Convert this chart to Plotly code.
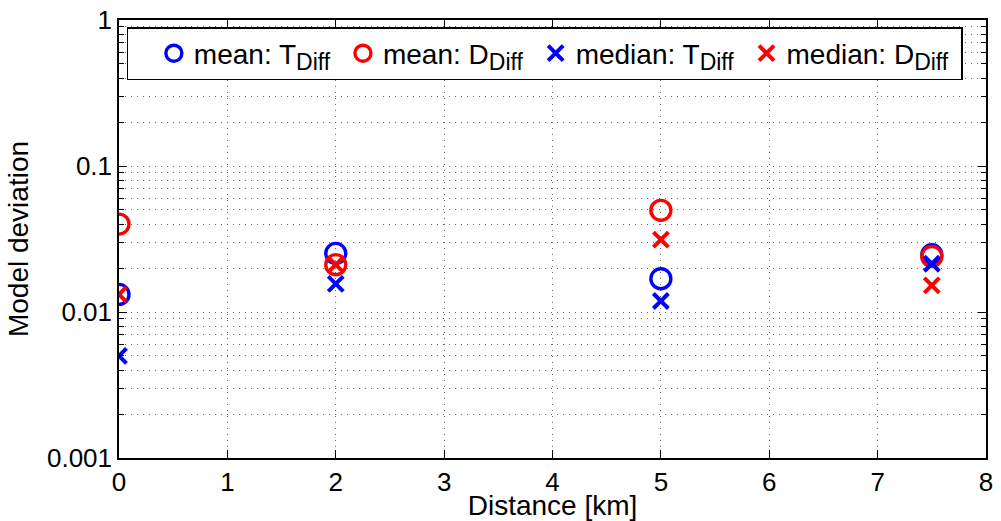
import plotly.graph_objects as go

distance = [0, 2, 5, 7.5]
mean_T = [0.0132, 0.0252, 0.0169, 0.0247]
mean_D = [0.040, 0.0211, 0.0497, 0.0240]
median_T = [0.0050, 0.0156, 0.0119, 0.0214]
median_D = [0.0132, 0.0211, 0.0313, 0.0152]

y_tickvals = [0.001, 0.01, 0.1, 1]
y_ticktext = ["0.001", "0.01", "0.1", "1"]

BLUE = "#0000ff"
RED = "#ff0000"
FONT = "Liberation Sans, Arial, sans-serif"
GRIDC = "#6a6a6a"
GDASH = "1px,5px"


def label(stat, var):
    return f"{stat}: {var}<sub><span style='font-size:23px'>Diff</span></sub>&nbsp;"


fig = go.Figure()
fig.add_trace(go.Scatter(x=distance, y=mean_T, mode="markers", name=label("mean", "T"),
                         marker=dict(symbol="circle-open", size=20, color=BLUE, line=dict(width=3.4, color=BLUE))))
fig.add_trace(go.Scatter(x=distance, y=mean_D, mode="markers", name=label("mean", "D"),
                         marker=dict(symbol="circle-open", size=20, color=RED, line=dict(width=3.4, color=RED))))
fig.add_trace(go.Scatter(x=distance, y=median_T, mode="markers", name=label("median", "T"),
                         marker=dict(symbol="x-thin-open", size=15, color=BLUE, line=dict(width=4, color=BLUE))))
fig.add_trace(go.Scatter(x=distance, y=median_D, mode="markers", name=label("median", "D"),
                         marker=dict(symbol="x-thin-open", size=15, color=RED, line=dict(width=4, color=RED))))

grid = dict(showgrid=True, gridcolor=GRIDC, griddash=GDASH, gridwidth=1)

fig.update_xaxes(range=[0, 8], dtick=1, tick0=0, showline=True, linecolor="black", linewidth=1.5,
                 mirror="allticks", ticks="inside", ticklen=8, tickcolor="black", automargin=True,
                 zeroline=False, title=dict(text="Distance [km]", font=dict(size=28, color="black"), standoff=3),
                 tickfont=dict(size=26, color="black"), **grid)
fig.update_yaxes(type="log", range=[-3, 0], tickvals=y_tickvals, ticktext=y_ticktext,
                 showline=True, linecolor="black", linewidth=1.5, mirror="allticks",
                 ticks="inside", ticklen=8, tickcolor="black", zeroline=False, automargin=False,
                 title=dict(text="Model deviation", font=dict(size=28, color="black"), standoff=10),
                 tickfont=dict(size=26, color="black"),
                 minor=dict(dtick="D1", showgrid=True, gridcolor=GRIDC, griddash=GDASH,
                            gridwidth=1, ticks="inside", ticklen=5, tickcolor="black"),
                 **grid)

fig.update_layout(
    width=1001, height=521,
    margin=dict(l=119, r=15, t=20, b=63, autoexpand=False),
    plot_bgcolor="white", paper_bgcolor="white",
    font=dict(family=FONT, size=26, color="black"),
    showlegend=True,
    legend=dict(orientation="h", x=0.009, y=0.984, xanchor="left", yanchor="top",
                bgcolor="white", bordercolor="black", borderwidth=1.5,
                font=dict(size=28, color="black"),
                title=dict(text="&nbsp;&nbsp;", side="left", font=dict(size=28)),
                itemsizing="trace", tracegroupgap=0),
)

fig.write_html("out.html", config={"displayModeBar": False},
               post_script="document.body.style.margin='0px';")
